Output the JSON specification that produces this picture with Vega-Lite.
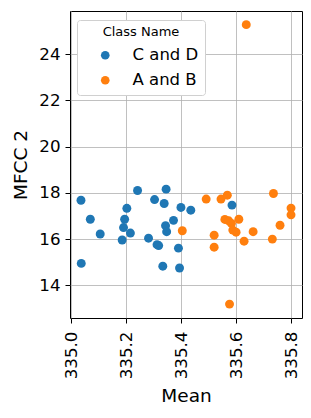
{
  "$schema": "https://vega.github.io/schema/vega-lite/v6.json",
  "width": 232,
  "height": 307,
  "autosize": "none",
  "padding": {"left": 70, "top": 11, "right": 9, "bottom": 100},
  "background": "white",
  "config": {
    "font": "DejaVu Sans",
    "view": {"stroke": "black", "strokeWidth": 1},
    "axis": {
      "grid": true, "gridColor": "#b0b0b0", "gridWidth": 0.8,
      "domain": false, "tickColor": "black", "tickSize": 5,
      "labelColor": "black", "labelFontSize": 16.7, "labelFont": "DejaVu Sans",
      "titleFontSize": 18.5, "titleFontWeight": "normal", "titleColor": "black", "titleFont": "DejaVu Sans"
    }
  },
  "data": {"values": [
    {"Mean": 335.035, "MFCC2": 17.68, "Class": "C and D"},
    {"Mean": 335.069, "MFCC2": 16.86, "Class": "C and D"},
    {"Mean": 335.036, "MFCC2": 14.95, "Class": "C and D"},
    {"Mean": 335.105, "MFCC2": 16.22, "Class": "C and D"},
    {"Mean": 335.202, "MFCC2": 17.33, "Class": "C and D"},
    {"Mean": 335.194, "MFCC2": 16.86, "Class": "C and D"},
    {"Mean": 335.19, "MFCC2": 16.5, "Class": "C and D"},
    {"Mean": 335.215, "MFCC2": 16.26, "Class": "C and D"},
    {"Mean": 335.185, "MFCC2": 15.96, "Class": "C and D"},
    {"Mean": 335.241, "MFCC2": 18.1, "Class": "C and D"},
    {"Mean": 335.281, "MFCC2": 16.04, "Class": "C and D"},
    {"Mean": 335.303, "MFCC2": 17.71, "Class": "C and D"},
    {"Mean": 335.312, "MFCC2": 15.76, "Class": "C and D"},
    {"Mean": 335.318, "MFCC2": 15.72, "Class": "C and D"},
    {"Mean": 335.333, "MFCC2": 14.83, "Class": "C and D"},
    {"Mean": 335.338, "MFCC2": 17.54, "Class": "C and D"},
    {"Mean": 335.345, "MFCC2": 18.16, "Class": "C and D"},
    {"Mean": 335.343, "MFCC2": 16.58, "Class": "C and D"},
    {"Mean": 335.347, "MFCC2": 16.32, "Class": "C and D"},
    {"Mean": 335.372, "MFCC2": 16.81, "Class": "C and D"},
    {"Mean": 335.399, "MFCC2": 17.37, "Class": "C and D"},
    {"Mean": 335.39, "MFCC2": 15.61, "Class": "C and D"},
    {"Mean": 335.394, "MFCC2": 14.75, "Class": "C and D"},
    {"Mean": 335.435, "MFCC2": 17.25, "Class": "C and D"},
    {"Mean": 335.585, "MFCC2": 17.47, "Class": "C and D"},
    {"Mean": 335.491, "MFCC2": 17.73, "Class": "A and B"},
    {"Mean": 335.545, "MFCC2": 17.73, "Class": "A and B"},
    {"Mean": 335.568, "MFCC2": 17.9, "Class": "A and B"},
    {"Mean": 335.404, "MFCC2": 16.36, "Class": "A and B"},
    {"Mean": 335.52, "MFCC2": 16.17, "Class": "A and B"},
    {"Mean": 335.52, "MFCC2": 15.65, "Class": "A and B"},
    {"Mean": 335.559, "MFCC2": 16.85, "Class": "A and B"},
    {"Mean": 335.573, "MFCC2": 16.79, "Class": "A and B"},
    {"Mean": 335.583, "MFCC2": 16.68, "Class": "A and B"},
    {"Mean": 335.588, "MFCC2": 16.39, "Class": "A and B"},
    {"Mean": 335.6, "MFCC2": 16.3, "Class": "A and B"},
    {"Mean": 335.61, "MFCC2": 16.86, "Class": "A and B"},
    {"Mean": 335.629, "MFCC2": 15.91, "Class": "A and B"},
    {"Mean": 335.662, "MFCC2": 16.32, "Class": "A and B"},
    {"Mean": 335.732, "MFCC2": 16.0, "Class": "A and B"},
    {"Mean": 335.736, "MFCC2": 17.97, "Class": "A and B"},
    {"Mean": 335.76, "MFCC2": 16.6, "Class": "A and B"},
    {"Mean": 335.8, "MFCC2": 17.34, "Class": "A and B"},
    {"Mean": 335.8, "MFCC2": 17.05, "Class": "A and B"},
    {"Mean": 335.576, "MFCC2": 13.19, "Class": "A and B"},
    {"Mean": 335.637, "MFCC2": 25.27, "Class": "A and B"}
  ]},
  "mark": {"type": "point", "filled": true, "shape": "circle", "size": 80, "opacity": 1},
  "encoding": {
    "x": {
      "field": "Mean", "type": "quantitative", "title": "Mean",
      "scale": {"domain": [334.995, 335.84], "nice": false, "zero": false},
      "axis": {"values": [335.0, 335.2, 335.4, 335.6, 335.8], "format": ".1f", "labelAngle": -90, "labelAlign": "right", "labelBaseline": "middle", "labelPadding": 8, "titlePadding": 8}
    },
    "y": {
      "field": "MFCC2", "type": "quantitative", "title": "MFCC 2",
      "scale": {"domain": [12.59, 25.86], "nice": false, "zero": false},
      "axis": {"values": [14, 16, 18, 20, 22, 24], "labelPadding": 5, "titlePadding": 8}
    },
    "color": {
      "field": "Class", "type": "nominal", "title": "Class Name",
      "scale": {"domain": ["C and D", "A and B"], "range": ["#1f77b4", "#ff7f0e"]},
      "legend": {
        "orient": "none", "legendX": 7, "legendY": 9,
        "fillColor": "white", "strokeColor": "#d0d0d0", "cornerRadius": 3, "padding": 6,
        "titleFontSize": 13, "titleFontWeight": "normal", "titleColor": "black", "titleAnchor": "middle", "titlePadding": 8,
        "labelFontSize": 16.5, "labelColor": "black", "labelOffset": 19, "symbolOffset": 14,
        "symbolSize": 75, "symbolType": "circle", "rowPadding": 8
      }
    }
  }
}
